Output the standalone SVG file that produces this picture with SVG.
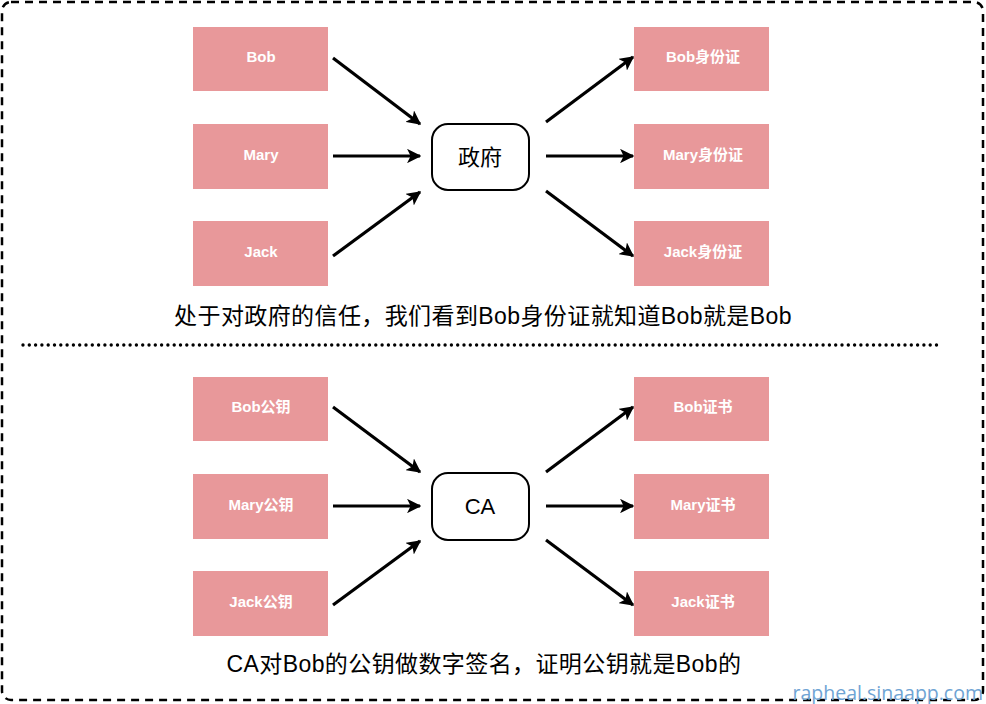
<svg xmlns="http://www.w3.org/2000/svg" width="986" height="704" viewBox="0 0 986 704">
<defs>
<marker id="ah" viewBox="0 0 10 10" refX="9" refY="5" markerWidth="4.5" markerHeight="4.5" orient="auto" markerUnits="strokeWidth">
<path d="M0,0 L10,5 L0,10 L2.5,5 Z" fill="#000"/>
</marker>
</defs>
<style>
.box{fill:#e8989a;}
.lbl{fill:#fff;font-family:"Liberation Sans","Noto Sans CJK SC",sans-serif;font-size:15px;font-weight:bold;text-anchor:middle;dominant-baseline:central;}
.ctr{fill:#fff;stroke:#000;stroke-width:2;}
.ctl{fill:#000;font-family:"Liberation Sans","Noto Sans CJK SC",sans-serif;font-size:22px;text-anchor:middle;dominant-baseline:central;}
.cap{fill:#000;font-family:"Liberation Sans","Noto Sans CJK SC",sans-serif;font-size:23px;letter-spacing:0.4px;text-anchor:middle;dominant-baseline:central;}
.arr{stroke:#000;stroke-width:3.2;fill:none;marker-end:url(#ah);}
</style>
<rect x="0" y="0" width="986" height="704" fill="#fff"/>
<rect x="2" y="2" width="981" height="698" rx="9" fill="none" stroke="#000" stroke-width="2.5" stroke-dasharray="8,6"/>
<line x1="23" y1="345" x2="942" y2="345" stroke="#000" stroke-width="3.4" stroke-dasharray="0,6.3" stroke-linecap="round"/>

<g id="n-bob"><rect class="box" x="193" y="27" width="135" height="64"/><text class="lbl" x="261" y="56">Bob</text></g>
<g id="n-mary"><rect class="box" x="193" y="124" width="135" height="65"/><text class="lbl" x="261" y="154">Mary</text></g>
<g id="n-jack"><rect class="box" x="193" y="221" width="135" height="65"/><text class="lbl" x="261" y="251">Jack</text></g>
<g id="n-gov"><rect class="ctr" x="432" y="124" width="97" height="66" rx="16"/><text class="ctl" x="480" y="157">政府</text></g>
<g id="n-bobid"><rect class="box" x="634" y="27" width="135" height="64"/><text class="lbl" x="703" y="56">Bob身份证</text></g>
<g id="n-maryid"><rect class="box" x="634" y="124" width="135" height="65"/><text class="lbl" x="703" y="154">Mary身份证</text></g>
<g id="n-jackid"><rect class="box" x="634" y="221" width="135" height="65"/><text class="lbl" x="703" y="251">Jack身份证</text></g>
<g id="cap1"><text class="cap" x="483" y="316">处于对政府的信任，我们看到Bob身份证就知道Bob就是Bob</text></g>

<g id="n-bobkey"><rect class="box" x="193" y="377" width="135" height="64"/><text class="lbl" x="261" y="406">Bob公钥</text></g>
<g id="n-marykey"><rect class="box" x="193" y="474" width="135" height="65"/><text class="lbl" x="261" y="504">Mary公钥</text></g>
<g id="n-jackkey"><rect class="box" x="193" y="571" width="135" height="65"/><text class="lbl" x="261" y="601">Jack公钥</text></g>
<g id="n-ca"><rect class="ctr" x="432" y="473" width="97" height="67" rx="16"/><text class="ctl" x="480" y="506">CA</text></g>
<g id="n-bobcert"><rect class="box" x="634" y="377" width="135" height="64"/><text class="lbl" x="703" y="406">Bob证书</text></g>
<g id="n-marycert"><rect class="box" x="634" y="474" width="135" height="65"/><text class="lbl" x="703" y="504">Mary证书</text></g>
<g id="n-jackcert"><rect class="box" x="634" y="571" width="135" height="65"/><text class="lbl" x="703" y="601">Jack证书</text></g>
<g id="cap2"><text class="cap" x="484" y="664">CA对Bob的公钥做数字签名，证明公钥就是Bob的</text></g>

<g id="connectors">
<line class="arr" x1="333" y1="58" x2="420" y2="124"/>
<line class="arr" x1="333" y1="156" x2="420" y2="156"/>
<line class="arr" x1="333" y1="256" x2="420" y2="192"/>
<line class="arr" x1="546" y1="122" x2="633" y2="57"/>
<line class="arr" x1="546" y1="156" x2="633" y2="156"/>
<line class="arr" x1="546" y1="191" x2="633" y2="256"/>
<line class="arr" x1="333" y1="407" x2="420" y2="472"/>
<line class="arr" x1="333" y1="506" x2="420" y2="506"/>
<line class="arr" x1="333" y1="605" x2="420" y2="541"/>
<line class="arr" x1="546" y1="472" x2="633" y2="407"/>
<line class="arr" x1="546" y1="506" x2="633" y2="506"/>
<line class="arr" x1="546" y1="540" x2="633" y2="605"/>
</g>
<text x="983" y="692" fill="#6fa4d4" font-family="'Open Sans','DejaVu Sans',sans-serif" font-size="19.5" text-anchor="end" dominant-baseline="central">rapheal.sinaapp.com</text>
</svg>
